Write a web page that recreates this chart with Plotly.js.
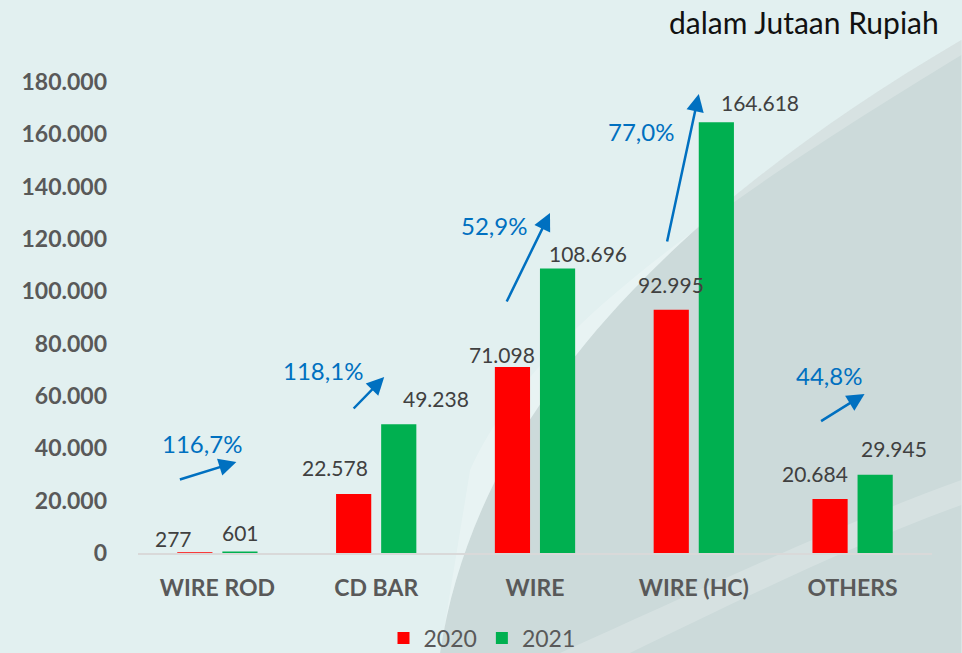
<!DOCTYPE html>
<html>
<head>
<meta charset="utf-8">
<script src="https://cdn.plot.ly/plotly-3.0.1.min.js"></script>
<style>
html,body{margin:0;padding:0;background:#e2f0f0;overflow:hidden;}
#chart{width:962px;height:653px;}
</style>
</head>
<body>
<div id="chart"></div>
<script>
// ---- data ----
const categories = ['WIRE ROD', 'CD BAR', 'WIRE', 'WIRE (HC)', 'OTHERS'];
const values2020 = [277, 22578, 71098, 92995, 20684];
const values2021 = [601, 49238, 108696, 164618, 29945];
const growthLabels = ['116,7%', '118,1%', '52,9%', '77,0%', '44,8%'];
const unitNote = 'dalam Jutaan Rupiah';
const yTicks = [0, 20000, 40000, 60000, 80000, 100000, 120000, 140000, 160000, 180000];

// ---- styling / placement (not data) ----
const FONT = 'Lato, "Open Sans", sans-serif';
const GREY = '#595959';
const LABEL = '#404040';
const BLUE = '#0070C0';
const L = 137.5, R = 932.5, T = 82, B = 553;           // plot area in px
const W = 962, H = 653;
const shift2020 = [-44, -41, -33, -23, -38];             // label x-shifts (px)
const shift2021 = [23, 60, 53, 66, 41];
const lift2020 = [14, 26, 12, 25, 25];                   // label lift above bar (px)
const lift2021 = [19, 26, 15, 20, 26];
// arrow head / tail and growth-label positions (px on the page)
const arrowHead = [[236,462],[384,377],[550,213],[699,94],[865,394]];
const arrowTail = [[178,480],[352,410],[506,303],[667,243],[820,422]];
const growthPos = [[202,443],[323,370],[494,225],[641,131],[829,375]];

const yMax = 180000;
const catW = (R - L) / categories.length;
const pxToCat = px => (px - L) / catW - 0.5;
const pyToVal = py => (B - py) * yMax / (B - T);
const px2paper = px => (px - L) / (R - L);
const py2paper = py => (B - py) / (B - T);
const fmt = v => String(v).replace(/\B(?=(\d{3})+(?!\d))/g, '.');

const traces = [
  {type:'bar', name:'2020', x:categories, y:values2020, marker:{color:'#FF0000'}, hoverinfo:'x+y'},
  {type:'bar', name:'2021', x:categories, y:values2021, marker:{color:'#00B050'}, hoverinfo:'x+y'}
];

const annotations = [];
categories.forEach((c, i) => {
  annotations.push({x:c, y:values2020[i], xref:'x', yref:'y', text:fmt(values2020[i]),
    showarrow:false, xshift:shift2020[i], yshift:lift2020[i], yanchor:'middle',
    font:{family:FONT, size:21, color:LABEL}});
  annotations.push({x:c, y:values2021[i], xref:'x', yref:'y', text:fmt(values2021[i]),
    showarrow:false, xshift:shift2021[i], yshift:lift2021[i], yanchor:'middle',
    font:{family:FONT, size:21, color:LABEL}});
  annotations.push({x:pxToCat(growthPos[i][0]), y:pyToVal(growthPos[i][1]), xref:'x', yref:'y',
    text:growthLabels[i], showarrow:false, yanchor:'middle',
    font:{family:FONT, size:24, color:BLUE}});
  annotations.push({x:pxToCat(arrowHead[i][0]), y:pyToVal(arrowHead[i][1]), xref:'x', yref:'y',
    text:'', showarrow:true, arrowhead:2, arrowsize:1.4, arrowwidth:2.5, arrowcolor:BLUE,
    standoff:0, startstandoff:0,
    ax:arrowTail[i][0]-arrowHead[i][0], ay:arrowTail[i][1]-arrowHead[i][1]});
});
annotations.push({xref:'paper', yref:'paper', x:px2paper(942), y:py2paper(22), text:unitNote,
  showarrow:false, xanchor:'right', yanchor:'middle', font:{family:FONT, size:30, color:'#111111'}});

const shapes = [
  {type:'path', xref:'paper', yref:'paper', layer:'below', line:{width:0},
   fillcolor:'rgba(140,150,150,0.25)',
   path:`M ${px2paper(440)} ${py2paper(653)} C ${px2paper(470)} ${py2paper(450)}, ${px2paper(620)} ${py2paper(240)}, ${px2paper(962)} ${py2paper(40)} L ${px2paper(962)} ${py2paper(653)} Z`},
  {type:'path', xref:'paper', yref:'paper', layer:'below', line:{width:0},
   fillcolor:'rgba(255,255,255,0.22)',
   path:`M ${px2paper(470)} ${py2paper(470)} C ${px2paper(520)} ${py2paper(360)}, ${px2paper(640)} ${py2paper(250)}, ${px2paper(962)} ${py2paper(55)} L ${px2paper(962)} ${py2paper(40)} C ${px2paper(620)} ${py2paper(240)}, ${px2paper(470)} ${py2paper(450)}, ${px2paper(440)} ${py2paper(653)} Z`},
  {type:'path', xref:'paper', yref:'paper', layer:'below', line:{width:0},
   fillcolor:'rgba(255,255,255,0.20)',
   path:`M ${px2paper(560)} ${py2paper(653)} C ${px2paper(700)} ${py2paper(590)}, ${px2paper(850)} ${py2paper(520)}, ${px2paper(962)} ${py2paper(480)} L ${px2paper(962)} ${py2paper(505)} C ${px2paper(850)} ${py2paper(545)}, ${px2paper(720)} ${py2paper(610)}, ${px2paper(630)} ${py2paper(653)} Z`}
];

const layout = {
  width:W, height:H,
  margin:{l:L, r:W-R, t:T, b:H-B, pad:0, autoexpand:false},
  paper_bgcolor:'#e2f0f0',
  plot_bgcolor:'rgba(0,0,0,0)',
  separators:',.',
  barmode:'group',
  bargap:0.432,
  bargroupgap:0.22,
  showlegend:true,
  legend:{orientation:'h', xref:'container', yref:'container', x:482/W, xanchor:'center',
    y:(H-638)/H, yanchor:'middle',
    font:{family:FONT, size:23, color:GREY}, bgcolor:'rgba(0,0,0,0)', itemwidth:30, traceorder:'normal'},
  xaxis:{type:'category', automargin:false, showgrid:false, zeroline:false, showline:true, linecolor:'#d9d9d9', linewidth:2,
    ticks:'', ticklabelstandoff:13, tickfont:{family:FONT, size:23, color:GREY, weight:'bold'}},
  yaxis:{range:[0, yMax], automargin:false, tickvals:yTicks, ticktext:yTicks.map(fmt), showgrid:false, zeroline:false,
    showline:false, ticks:'', ticklabelstandoff:30,
    tickfont:{family:FONT, size:23, color:GREY, weight:'bold'}},
  annotations:annotations,
  shapes:shapes
};

Plotly.newPlot('chart', traces, layout, {displayModeBar:false, staticPlot:true});
</script>
</body>
</html>
